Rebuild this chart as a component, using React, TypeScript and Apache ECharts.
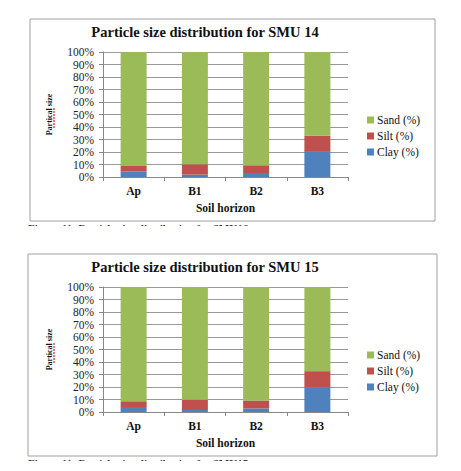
import React, { useEffect, useRef } from "react";
import * as echarts from "echarts";

const categories = ["Ap", "B1", "B2", "B3"];
const clay14 = [4.3, 1.9, 3.2, 20.1];
const silt14 = [4.5, 8.3, 6.2, 12.9];
const sand14 = [91.2, 89.8, 90.6, 67.0];
const clay15 = [4.0, 1.6, 2.9, 19.8];
const silt15 = [4.6, 8.3, 6.2, 12.9];
const sand15 = [91.4, 90.1, 90.9, 67.3];
const seriesNames = ["Sand (%)", "Silt (%)", "Clay (%)"];
const titles = ["Particle size distribution for SMU 14", "Particle size distribution for SMU 15"];
const captions = ["Figure 11: Particle size distribution for SMU16", "Figure 11: Particle size distribution for SMU15"];

const FONT = "Liberation Serif";
const GREEN = "#9BBB59";
const RED = "#C0504D";
const BLUE = "#4F81BD";

export default function App() {
  const ref = useRef<HTMLDivElement>(null);
  useEffect(() => {
    if (!ref.current) return;
    const chart = echarts.init(ref.current, null, { renderer: "svg" });
    const grids = [
      { left: 103, top: 52, width: 245, height: 125 },
      { left: 103, top: 287, width: 245, height: 125 },
    ];
    const xAxis = grids.map((_, i) => ({
      type: "category",
      gridIndex: i,
      data: categories,
      name: "Soil horizon",
      nameLocation: "middle",
      nameGap: 25,
      nameTextStyle: { fontFamily: FONT, fontSize: 11.5, fontWeight: "bold", color: "#111" },
      axisLine: { lineStyle: { color: "#888" } },
      axisTick: { show: true, length: 4, lineStyle: { color: "#888" } },
      axisLabel: { fontFamily: FONT, fontSize: 11.5, fontWeight: "bold", color: "#111", margin: 8 },
    }));
    const yAxis = grids.map((_, i) => ({
      type: "value",
      gridIndex: i,
      min: 0,
      max: 100,
      interval: 10,
      name: "Partical size",
      nameLocation: "middle",
      nameGap: 50,
      nameTextStyle: { fontFamily: FONT, fontSize: 8, fontWeight: "bold", color: "#111" },
      axisLine: { show: true, lineStyle: { color: "#888" } },
      axisTick: { show: true, length: 4, lineStyle: { color: "#888" } },
      splitLine: { lineStyle: { color: "#999" } },
      axisLabel: { fontFamily: FONT, fontSize: 11.5, color: "#222", margin: 9, formatter: "{value}%" },
    }));
    const data = [
      [clay14, silt14, sand14],
      [clay15, silt15, sand15],
    ];
    const series: any[] = [];
    data.forEach((set, gi) => {
      const [clay, silt, sand] = set;
      const entries: [string, number[], string][] = [
        ["Clay (%)", clay, BLUE],
        ["Silt (%)", silt, RED],
        ["Sand (%)", sand, GREEN],
      ];
      entries.forEach(([name, vals, color]) => {
        series.push({
          type: "bar",
          name,
          xAxisIndex: gi,
          yAxisIndex: gi,
          stack: "s" + gi,
          barWidth: 26,
          itemStyle: { color },
          data: vals,
        });
      });
    });
    const legendBase = {
      orient: "vertical",
      left: 362,
      itemWidth: 7,
      itemHeight: 7,
      itemGap: 4,
      icon: "rect",
      data: seriesNames,
      textStyle: { fontFamily: FONT, fontSize: 11.5, color: "#111", lineHeight: 12, padding: [0, 0, 0, -2] },
      selectedMode: false,
    };
    const frames = [
      { x: 30, y: 19, w: 405, h: 202, ty: 32, cy: 222 },
      { x: 28, y: 254, w: 409, h: 202, ty: 267, cy: 457 },
    ];
    const graphic: any[] = [];
    frames.forEach((f, i) => {
      graphic.push({
        type: "text",
        x: 28,
        y: f.cy,
        z: 1,
        style: { text: captions[i], fontFamily: FONT, fontSize: 11, fontWeight: "bold", fill: "#333", textVerticalAlign: "top" },
      });
      graphic.push({
        type: "rect",
        shape: { x: 0, y: f.cy + 4, width: 461, height: 16 },
        z: 2,
        style: { fill: "#fff" },
      });
      graphic.push({
        type: "rect",
        shape: { x: f.x, y: f.y, width: f.w, height: f.h },
        z: 3,
        style: { fill: "none", stroke: "#a0a0a0", lineWidth: 1 },
      });
      graphic.push({
        type: "text",
        x: 205,
        y: f.ty,
        z: 3,
        style: {
          text: titles[i],
          fontFamily: FONT,
          fontSize: 14.5,
          fontWeight: "bold",
          fill: "#111",
          textAlign: "center",
          textVerticalAlign: "middle",
        },
      });
      const gy = i === 0 ? 0 : 235;
      graphic.push({
        type: "line",
        z: 3,
        shape: { x1: 54, y1: gy + 108, x2: 54, y2: gy + 129 },
        style: { stroke: "#e02020", lineWidth: 1.2, lineDash: [2, 1] },
      });
    });
    chart.setOption({
      animation: false,
      backgroundColor: "#fff",
      grid: grids,
      xAxis,
      yAxis,
      series,
      legend: [
        { ...legendBase, top: 109 },
        { ...legendBase, top: 344 },
      ],
      graphic,
    });
    return () => chart.dispose();
  }, []);
  return (
    <div
      ref={ref}
      style={{ position: "fixed", left: 0, top: 0, width: 461, height: 471, background: "#fff" }}
    />
  );
}
